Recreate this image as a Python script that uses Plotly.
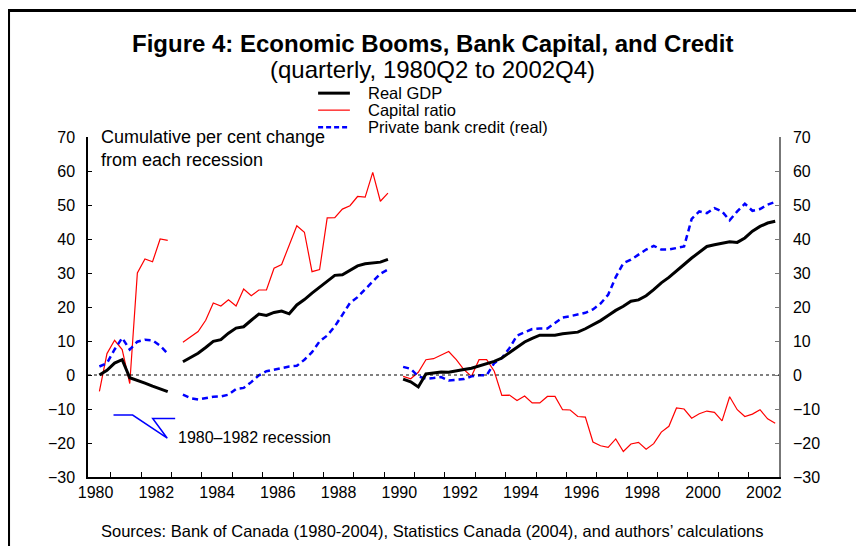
import plotly.graph_objects as go

# ---------------- data ----------------
series_names = ["Real GDP", "Capital ratio", "Private bank credit (real)"]
first_quarter = (1980, 3)   # first plotted quarter
last_quarter = (2002, 4)

gdp_seg1 = [0.0, 1.4, 3.5, 4.5, -0.8, -1.5, -2.4, -3.3, -4.1, -4.9]
cap_seg1 = [-4.8, 6.3, 10.2, 7.5, -2.5, 30.0, 34.1, 33.3, 40.0, 39.6]
credit_seg1 = [2.5, 3.5, 7.5, 10.9, 7.5, 9.8, 10.4, 10.2, 8.6, 6.3]

gdp_seg2 = [3.9, 5.1, 6.4, 8.1, 9.9, 10.4, 12.3, 13.8, 14.2, 16.1, 17.9, 17.5, 18.4, 18.8,
            18.0, 20.6, 22.2, 24.1, 25.9, 27.7, 29.3, 29.5, 30.7, 32.1, 32.7, 33.0, 33.2, 34.0]
cap_seg2 = [9.6, 11.2, 12.8, 16.1, 21.2, 20.3, 22.1, 20.3, 25.3, 23.3, 25.0, 25.0, 31.4, 32.5,
            38.1, 43.9, 42.0, 30.4, 31.0, 46.2, 46.3, 48.8, 49.8, 52.5, 52.3, 59.6, 51.1, 53.5]
credit_seg2 = [-5.8, -6.8, -7.2, -6.7, -6.4, -6.3, -5.8, -4.1, -3.8, -2.1, -0.1, 1.1, 1.6, 2.0,
               2.5, 2.7, 4.5, 6.7, 9.9, 11.6, 14.3, 17.7, 21.2, 22.9, 25.1, 27.3, 29.8, 31.0]

gdp_seg3 = [-1.2, -2.0, -3.5, 0.3, 0.6, 0.9, 0.8, 1.1, 1.6, 2.0, 2.6, 3.2, 4.0, 5.0, 6.5, 8.1,
            9.7, 10.8, 11.7, 11.7, 11.7, 12.1, 12.3, 12.6, 13.6, 14.7, 16.0, 17.5, 19.0, 20.2,
            21.7, 22.1, 23.3, 25.1, 27.1, 28.7, 30.5, 32.5, 34.4, 36.1, 37.8, 38.3, 38.8, 39.2,
            39.0, 40.3, 42.3, 43.7, 44.7, 45.2]
cap_seg3 = [-0.4, -1.1, 0.8, 4.5, 4.8, 5.8, 6.9, 4.5, 1.6, -0.4, 4.5, 4.5, 1.1, -6.0, -5.9,
            -7.5, -6.2, -8.2, -8.2, -6.3, -6.3, -10.2, -10.3, -12.2, -12.4, -19.7, -20.8, -21.3,
            -18.8, -22.5, -20.3, -19.8, -21.8, -20.2, -16.8, -15.1, -9.7, -10.0, -12.7, -11.4,
            -10.6, -11.0, -13.5, -6.4, -10.2, -12.2, -11.5, -10.2, -12.9, -14.2]
credit_seg3 = [2.4, 1.8, -0.4, -1.1, -0.9, -0.6, -1.6, -1.5, -1.2, -0.4, -0.1, -0.1, 3.5, 5.0,
               7.9, 11.6, 12.5, 13.5, 13.7, 13.7, 15.3, 16.9, 17.3, 17.9, 18.3, 19.3, 21.0, 23.6,
               28.8, 32.9, 33.9, 35.4, 36.9, 38.0, 36.9, 36.9, 37.4, 37.8, 45.9, 48.1, 47.6, 49.1,
               48.1, 45.5, 48.1, 50.4, 48.3, 48.8, 50.1, 50.9]

year_labels = ["1980", "1982", "1984", "1986", "1988", "1990", "1992", "1994", "1996",
               "1998", "2000", "2002"]
y_ticks = [-30, -20, -10, 0, 10, 20, 30, 40, 50, 60, 70]

title_text = "Figure 4: Economic Booms, Bank Capital, and Credit"
subtitle_text = "(quarterly, 1980Q2 to 2002Q4)"
axis_note = "Cumulative per cent change<br>from each recession"
recession_note = "1980\u20131982 recession"
source_text = "Sources: Bank of Canada (1980-2004), Statistics Canada (2004), and authors\u2019 calculations"

# ---------------- build ----------------
gdp = gdp_seg1 + [None] + gdp_seg2 + [None] + gdp_seg3
cap = cap_seg1 + [None] + cap_seg2 + [None] + cap_seg3
credit = credit_seg1 + [None] + credit_seg2 + [None] + credit_seg3

xs = []
y, q = first_quarter
while (y, q) <= last_quarter:
    xs.append(y + (q - 1) / 4 + 0.125)  # middle of the quarter
    q += 1
    if q > 4:
        q = 1
        y += 1
assert len(xs) == len(gdp)

FONT = "Liberation Sans, Arial, sans-serif"

fig = go.Figure()
fig.add_trace(go.Scatter(x=xs, y=cap, mode="lines", name=series_names[1],
                         line=dict(color="#ff0000", width=1.2), connectgaps=False))
fig.add_trace(go.Scatter(x=xs, y=credit, mode="lines", name=series_names[2],
                         line=dict(color="#0000ff", width=2.5, dash="6px,4px"), connectgaps=False))
fig.add_trace(go.Scatter(x=xs, y=gdp, mode="lines", name=series_names[0],
                         line=dict(color="#000000", width=3), connectgaps=False))
# invisible trace for right axis
fig.add_trace(go.Scatter(x=[xs[0]], y=[0], yaxis="y2", mode="lines", showlegend=False,
                         line=dict(color="rgba(0,0,0,0)"), hoverinfo="skip"))

label_pos = [int(s) + 0.5 for s in year_labels]
year_ticks = list(range(int(year_labels[0]) + 1, int(year_labels[-1]) + 1))

fig.update_layout(
    width=864, height=546,
    margin=dict(l=80, r=93, t=129, b=77),
    paper_bgcolor="white", plot_bgcolor="white",
    showlegend=False,
    font=dict(family=FONT, size=16, color="black"),
    xaxis=dict(range=[1980.25, 2003.0], tickvals=label_pos, ticktext=year_labels,
               ticks="", showgrid=False, zeroline=False, showline=True,
               linecolor="black", linewidth=1.5,
               minor=dict(tickvals=year_ticks, ticks="inside", ticklen=5,
                          tickcolor="black", tickwidth=1, showgrid=False),
               tickfont=dict(size=16)),
    yaxis=dict(range=[-30, 70], tickvals=y_ticks, ticks="inside", ticklen=4,
               tickcolor="black", showgrid=False, zeroline=False, showline=True,
               linecolor="black", linewidth=1.5, ticklabelstandoff=8,
               tickfont=dict(size=16)),
    yaxis2=dict(range=[-30, 70], tickvals=y_ticks, ticks="inside", ticklen=4,
                tickcolor="#777777", overlaying="y", side="right", showgrid=False,
                zeroline=False, showline=True, linecolor="#777777", linewidth=1.5,
                ticklabelstandoff=9, tickfont=dict(size=16)),
)

# zero reference line (dotted)
fig.add_shape(type="line", xref="paper", yref="y", x0=0, x1=1, y0=0, y1=0,
              line=dict(color="black", width=1, dash="dot"))

# outer frame (only top and left visible)
fig.add_shape(type="line", xref="paper", yref="paper", x0=-0.113, x1=1.3, y0=1.382, y1=1.382,
              line=dict(color="#aaaaaa", width=2))
fig.add_shape(type="rect", xref="paper", yref="paper", x0=-0.115, x1=1.3, y0=-0.4, y1=1.372,
              line=dict(color="black", width=3))

# title
fig.add_annotation(text="<b>" + title_text + "</b>", xref="paper", yref="paper",
                   x=0.498, y=1.275, xanchor="center", yanchor="middle", showarrow=False,
                   font=dict(size=24, family=FONT))
fig.add_annotation(text=subtitle_text, xref="paper", yref="paper",
                   x=0.498, y=1.2, xanchor="center", yanchor="middle", showarrow=False,
                   font=dict(size=24, family=FONT))

# manual legend
legend_styles = [dict(color="black", width=3),
                 dict(color="#ff0000", width=1.2),
                 dict(color="#0000ff", width=2.5, dash="5px,3px")]
for i, (name, st) in enumerate(zip(series_names, legend_styles)):
    yy = 1.129 - i * 0.05
    fig.add_shape(type="line", xref="paper", yref="paper", x0=0.333, x1=0.379,
                  y0=yy, y1=yy, line=st)
    fig.add_annotation(text=name, xref="paper", yref="paper", x=0.402, y=yy,
                       xanchor="left", yanchor="middle", showarrow=False,
                       font=dict(size=16.5, family=FONT))

# axis note
fig.add_annotation(text=axis_note, xref="paper", yref="paper", x=0.016, y=1.035,
                   xanchor="left", yanchor="top", showarrow=False, align="left",
                   font=dict(size=18, family=FONT))

# recession pointer
fig.add_shape(type="path", xref="x", yref="y",
              path="M 1981.09 -11.8 L 1981.72 -11.8 L 1982.86 -18.6 L 1982.38 -12.8 L 1983.12 -12.8",
              line=dict(color="#0000ff", width=1.5))
fig.add_annotation(text=recession_note, xref="x", yref="y", x=1983.15, y=-18.4,
                   xanchor="left", yanchor="middle", showarrow=False,
                   font=dict(size=16, family=FONT))

# sources
fig.add_annotation(text=source_text, xref="paper", yref="paper", x=0.498, y=-0.159,
                   xanchor="center", yanchor="middle", showarrow=False,
                   font=dict(size=16.5, family=FONT))

fig.write_html("out.html")
